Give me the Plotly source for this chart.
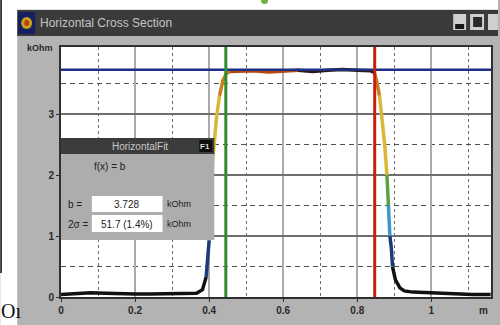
import plotly.graph_objects as go

# ---------------------------------------------------------------
# data (x in m, y in kOhm)
# ---------------------------------------------------------------
profile_x = [0.00, 0.04, 0.08, 0.12, 0.16, 0.20, 0.24, 0.28, 0.32, 0.35,
             0.366, 0.382, 0.392, 0.400, 0.405, 0.409, 0.414, 0.420, 0.428,
             0.437, 0.446, 0.456, 0.48, 0.52, 0.56, 0.60, 0.64, 0.68, 0.72,
             0.76, 0.80, 0.836, 0.846, 0.852, 0.860, 0.868, 0.874, 0.880,
             0.884, 0.888, 0.892, 0.895, 0.903, 0.915, 0.927, 0.950, 0.989,
             1.03, 1.07, 1.11, 1.16]
profile_y = [0.04, 0.05, 0.07, 0.06, 0.05, 0.05, 0.05, 0.05, 0.05, 0.05,
             0.06, 0.12, 0.33, 0.93, 1.60, 2.20, 2.60, 2.95, 3.30,
             3.55, 3.66, 3.70, 3.70, 3.71, 3.69, 3.71, 3.72, 3.70, 3.72,
             3.73, 3.72, 3.71, 3.68, 3.55, 3.30, 2.90, 2.50, 2.00,
             1.50, 1.00, 0.80, 0.50, 0.28, 0.15, 0.10, 0.08, 0.07,
             0.05, 0.05, 0.04, 0.04]

fit_b = 3.728          # horizontal fit level, kOhm
left_cursor = 0.445    # green marker, m
right_cursor = 0.847   # red marker, m
fit_b_text = "3.728"
fit_2s_text = "51.7 (1.4%)"

x_max = 1.161
y_max = 4.1

# ---------------------------------------------------------------
# pixel helpers for the window chrome
# ---------------------------------------------------------------
L, R, T, B = 61, 493, 47, 297


def px(x):
    return (x - L) / (R - L)


def py(y):
    return (B - y) / (B - T)


def box(x0, y0, x1, y1, color, layer="below"):
    return dict(type="rect", xref="paper", yref="paper",
                x0=px(x0), x1=px(x1), y0=py(y1), y1=py(y0),
                fillcolor=color, line=dict(width=0), layer=layer)


def label(x, y, s, size=10, color="#222222", anchor="left",
          family="Liberation Sans", weight="normal"):
    return dict(x=px(x), y=py(y), xref="paper", yref="paper", text=s,
                showarrow=False, xanchor=anchor, yanchor="middle",
                font=dict(size=size, color=color, family=family, weight=weight))


def seg_color(x0, y0, x1, y1):
    slope = abs((y1 - y0) / (x1 - x0))
    ym = (y0 + y1) / 2
    if slope < 4:
        if ym > 2:
            return "#b8450f" if x0 < 0.62 else "#2c1a12"
        return "#111111"
    if ym > 3.2:
        return "#c8801c"
    if ym > 2.2:
        return "#d8b838"
    if ym > 1.6:
        return "#5aa044"
    if ym > 1.0:
        return "#3a98c8"
    if ym > 0.4:
        return "#1a3a78"
    return "#111111"


fig = go.Figure()

# profile drawn as runs of coloured segments
runs = []
for i in range(len(profile_x) - 1):
    c = seg_color(profile_x[i], profile_y[i], profile_x[i + 1], profile_y[i + 1])
    if runs and runs[-1][0] == c:
        runs[-1][1].append(i + 1)
    else:
        runs.append([c, [i, i + 1]])

for c, idx in runs:
    fig.add_trace(go.Scatter(
        x=[profile_x[k] for k in idx], y=[profile_y[k] for k in idx],
        mode="lines", line=dict(color=c, width=3.5),
        hoverinfo="skip", showlegend=False))

# fit level and cursors
fig.add_trace(go.Scatter(x=[0, x_max], y=[fit_b, fit_b], mode="lines",
                         line=dict(color="#1c2f86", width=2.5),
                         hoverinfo="skip", showlegend=False))
fig.add_trace(go.Scatter(x=[left_cursor, left_cursor], y=[0, y_max], mode="lines",
                         line=dict(color="#2e8c2e", width=3),
                         hoverinfo="skip", showlegend=False))
fig.add_trace(go.Scatter(x=[right_cursor, right_cursor], y=[0, y_max], mode="lines",
                         line=dict(color="#c8200e", width=3),
                         hoverinfo="skip", showlegend=False))

# ---------------------------------------------------------------
# window chrome (paper is the grey window body, white page around it)
# ---------------------------------------------------------------
shapes = [
    box(0, 0, 500, 9, "#ffffff"),
    box(0, 0, 17, 325, "#ffffff"),
    box(17, 9, 500, 10, "#e2e2e2"),
    box(0, 0, 1.6, 273, "#1a1a10"),
    box(17, 10, 500, 36, "#3a3a3a"),
    box(18, 12, 35, 34, "#142062"),
    # title bar buttons
    box(455, 14, 468, 30, "#cfcfcf"),
    box(457, 24, 466, 29, "#151515"),
    box(472, 14, 486, 30, "#cfcfcf"),
    box(475, 17, 484, 27, "#2a2a2a"),
    box(490, 14, 500, 30, "#cfcfcf"),
    # fit dialog
    box(L, 138, 215, 154, "#3c3c3c", "above"),
    box(200, 140, 213, 152, "#0e0e0e", "above"),
    box(L, 154, 215, 240, "#adadad", "above"),
    box(92, 196, 163, 212, "#ffffff", "above"),
    box(92, 215, 163, 232, "#ffffff", "above"),
]
shapes.append(dict(type="circle", xref="paper", yref="paper",
                   x0=px(21), x1=px(32), y0=py(29), y1=py(17),
                   fillcolor="#c8a020", line=dict(width=0), layer="below"))
shapes.append(dict(type="circle", xref="paper", yref="paper",
                   x0=px(24), x1=px(29), y0=py(26), y1=py(20),
                   fillcolor="#c03a12", line=dict(width=0), layer="below"))
shapes.append(dict(type="circle", xref="paper", yref="paper",
                   x0=px(262), x1=px(269), y0=py(4), y1=py(-3),
                   fillcolor="#6cb040", line=dict(width=0), layer="below"))

annotations = [
    label(38, 23, "Horizontal Cross Section", 12, "#c4c4c4"),
    label(55, 48, "kOhm", 9, "#2a2a2a", "right", weight="bold"),
    label(492, 310, "m", 10, "#2a2a2a", "right", weight="bold"),
    label(-1, 311, "O\u0131", 20, "#111111", family="Liberation Serif"),
    label(140, 146, "HorizontalFit", 10, "#c8c8c8", "center"),
    label(206, 146, "F1", 8, "#dddddd", "center", weight="bold"),
    label(92, 166, "f(x) = b", 10, "#222222"),
    label(66, 204, "b =", 10, "#222222"),
    label(127, 204, fit_b_text, 10, "#222222", "center"),
    label(165, 204, "kOhm", 9, "#222222"),
    label(66, 224, "2\u03c3 =", 10, "#222222"),
    label(127, 224, fit_2s_text, 10, "#222222", "center"),
    label(165, 224, "kOhm", 9, "#222222"),
]

fig.update_layout(
    width=500, height=325,
    margin=dict(l=L, r=500 - R, t=T, b=325 - B),
    paper_bgcolor="#b3b3b3", plot_bgcolor="#ffffff",
    shapes=shapes, annotations=annotations,
    hovermode=False, showlegend=False,
    xaxis=dict(range=[0, x_max], tickmode="linear", tick0=0, dtick=0.2,
               showgrid=True, gridcolor="#ababab", gridwidth=2,
               minor=dict(dtick=0.1, showgrid=True, gridcolor="#6a6a6a",
                          gridwidth=1, griddash="3px,3px"),
               showline=True, linecolor="#303030", linewidth=2, mirror=True,
               ticks="outside", ticklen=3, tickcolor="#303030",
               tickfont=dict(size=10, color="#2a2a2a", family="Liberation Sans",
                             weight="bold"),
               zeroline=False, fixedrange=True),
    yaxis=dict(range=[0, y_max], tickmode="array", tickvals=[0, 1, 2, 3],
               showgrid=True, gridcolor="#6e6e6e", gridwidth=1.5,
               minor=dict(tickmode="array", tickvals=[0.5, 1.5, 2.5, 3.5],
                          showgrid=True, gridcolor="#505050", gridwidth=1,
                          griddash="5px,4px"),
               showline=True, linecolor="#303030", linewidth=2, mirror=True,
               ticks="outside", ticklen=3, tickcolor="#303030",
               tickfont=dict(size=10, color="#2a2a2a", family="Liberation Sans",
                             weight="bold"),
               zeroline=False, fixedrange=True),
)

# the page body has an 8px default margin; drop it so the figure sits at 0,0
fig.write_html("out.html", config={"displayModeBar": False},
               post_script="document.body.style.margin='0px';")
